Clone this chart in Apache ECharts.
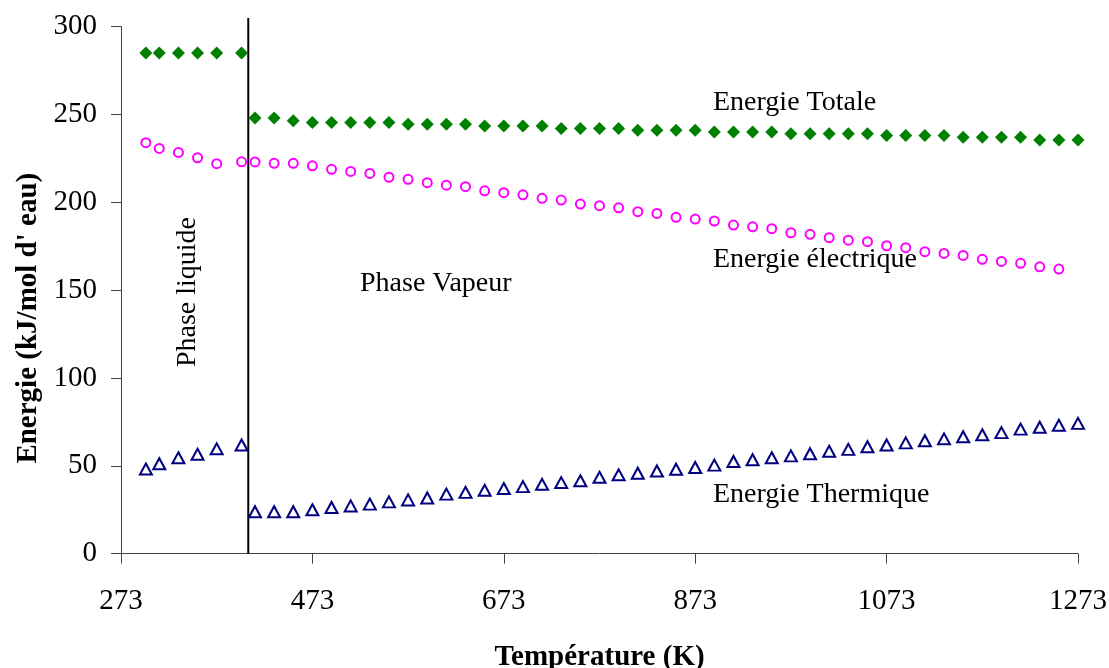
<!DOCTYPE html>
<html>
<head>
<meta charset="utf-8">
<script src="https://cdn.jsdelivr.net/npm/echarts@6/dist/echarts.min.js"></script>
<style>
html,body{margin:0;padding:0;background:#fff;}
#chart{width:1109px;height:668px;}
</style>
</head>
<body>
<div id="chart"></div>
<script>
// ---- data ----
const tempLiquide = [299, 313, 333, 353, 373, 399];
const tempVapeur = [413,433,453,473,493,513,533,553,573,593,613,633,653,673,693,713,733,753,773,793,813,833,853,873,893,913,933,953,973,993,1013,1033,1053,1073,1093,1113,1133,1153,1173,1193,1213,1233,1253,1273];

const totaleLiquide = [285, 285, 285, 285, 285, 285];
const totaleVapeur = [248, 248, 246.5, 245.5, 245.5, 245.5, 245.5, 245.5, 244.5, 244.5, 244.5, 244.5, 243.5, 243.5, 243.5, 243.5, 242, 242, 242, 242, 241, 241, 241, 241, 240, 240, 240, 240, 239, 239, 239, 239, 239, 238, 238, 238, 238, 237, 237, 237, 237, 235.5, 235.5, 235.5];

const electriqueLiquide = [234, 230.7, 228.4, 225.4, 222, 223.1];
const electriqueVapeur = [223, 222.2, 222.2, 220.8, 218.8, 217.6, 216.5, 214.3, 213.1, 211.2, 209.8, 208.9, 206.6, 205.5, 204.3, 202.3, 201.3, 199, 198.1, 196.9, 194.7, 193.7, 191.5, 190.5, 189.4, 187.1, 186.1, 185, 182.7, 181.8, 179.9, 178.5, 177.6, 175.3, 174.2, 171.9, 170.9, 169.8, 167.6, 166.4, 165.3, 163.3, 162];

const thermiqueLiquide = [48.2, 51.2, 54.6, 56.6, 59.7, 61.9];
const thermiqueVapeur = [23.9, 23.9, 23.9, 25, 26.3, 27.2, 28.2, 29.5, 30.6, 31.7, 33.9, 34.9, 36.1, 37.1, 38.2, 39.5, 40.5, 41.5, 43.5, 44.9, 45.8, 47.1, 48.1, 49.1, 50.4, 52.5, 53.5, 54.6, 55.7, 56.9, 58.3, 59.4, 60.9, 61.9, 63.1, 64.3, 65.4, 66.6, 67.7, 68.9, 70.9, 72, 73.1, 74.2];

const limitePhase = 406;          // temperature of the vertical separator
const limiteY = [0, 305];
const xTicks = {min: 273, max: 1273, interval: 200};
const yTicks = {min: 0, max: 300, interval: 50};

const xTitle = 'Température (K)';
const yTitle = "Energie (kJ/mol d' eau)";

// ---- helpers ----
function pairs(xs, ys) { return ys.map((y, i) => [xs[i], y]); }

const FONT = 'Liberation Serif';
const chart = echarts.init(document.getElementById('chart'), null, {renderer: 'canvas'});

const option = {
  backgroundColor: '#ffffff',
  animation: false,
  grid: {left: 121, right: 31, top: 26.7, bottom: 114.3, containLabel: false, outerBoundsMode: 'none'},
  xAxis: {
    type: 'value',
    min: xTicks.min, max: xTicks.max, interval: xTicks.interval,
    name: xTitle, nameLocation: 'middle', nameGap: 89,
    nameTextStyle: {fontFamily: FONT, fontSize: 29, fontWeight: 'bold', color: '#000'},
    axisLine: {onZero: false, lineStyle: {color: '#444', width: 1}},
    axisTick: {show: true, inside: false, length: 10, lineStyle: {color: '#444', width: 1}},
    axisLabel: {fontFamily: FONT, fontSize: 29, color: '#000', margin: 33,
                formatter: v => String(v)},
    splitLine: {show: false}
  },
  yAxis: {
    type: 'value',
    min: yTicks.min, max: yTicks.max, interval: yTicks.interval,
    name: yTitle, nameLocation: 'middle', nameGap: 78, nameRotate: 90,
    nameTextStyle: {fontFamily: FONT, fontSize: 29, fontWeight: 'bold', color: '#000',
                    padding: [0, 56, 0, 0]},
    axisLine: {show: true, lineStyle: {color: '#444', width: 1}},
    axisTick: {show: true, inside: false, length: 10, lineStyle: {color: '#444', width: 1}},
    axisLabel: {fontFamily: FONT, fontSize: 29, color: '#000', margin: 24,
                padding: [10, 0, 0, 0], formatter: v => String(v)},
    splitLine: {show: false}
  },
  series: [
    {
      name: 'Limite de phase', type: 'line', clip: false, silent: true,
      data: [[limitePhase, limiteY[0]], [limitePhase, limiteY[1]]],
      symbol: 'none', lineStyle: {color: '#000', width: 2}, z: 1
    },
    {
      name: 'Energie Totale', type: 'scatter',
      data: pairs(tempLiquide, totaleLiquide).concat(pairs(tempVapeur, totaleVapeur)),
      symbol: 'diamond', symbolSize: 13,
      itemStyle: {color: '#008000', opacity: 1}, z: 3
    },
    {
      name: 'Energie électrique', type: 'scatter',
      data: pairs(tempLiquide, electriqueLiquide).concat(pairs(tempVapeur, electriqueVapeur)),
      symbol: 'circle', symbolSize: 9,
      itemStyle: {color: '#ffffff', borderColor: '#FF00FF', borderWidth: 2, opacity: 1}, z: 3
    },
    {
      name: 'Energie Thermique', type: 'scatter',
      data: pairs(tempLiquide, thermiqueLiquide).concat(pairs(tempVapeur, thermiqueVapeur)),
      symbol: 'triangle', symbolSize: [12, 11],
      itemStyle: {color: '#ffffff', borderColor: '#000080', borderWidth: 2, opacity: 1}, z: 3
    }
  ],
  graphic: [
    {type: 'text', x: 713, y: 103, z: 10,
     style: {text: 'Energie Totale', fontFamily: FONT, fontSize: 28, fill: '#000', align: 'left', verticalAlign: 'middle'}},
    {type: 'text', x: 713, y: 260, z: 10,
     style: {text: 'Energie électrique', fontFamily: FONT, fontSize: 28, fill: '#000', align: 'left', verticalAlign: 'middle'}},
    {type: 'text', x: 713, y: 495, z: 10,
     style: {text: 'Energie Thermique', fontFamily: FONT, fontSize: 28, fill: '#000', align: 'left', verticalAlign: 'middle'}},
    {type: 'text', x: 360, y: 284, z: 10,
     style: {text: 'Phase Vapeur', fontFamily: FONT, fontSize: 28, fill: '#000', align: 'left', verticalAlign: 'middle'}},
    {type: 'text', x: 188, y: 292, rotation: Math.PI / 2, z: 10,
     style: {text: 'Phase liquide', fontFamily: FONT, fontSize: 28, fill: '#000', align: 'center', verticalAlign: 'middle'}}
  ]
};
chart.setOption(option);
</script>
</body>
</html>
